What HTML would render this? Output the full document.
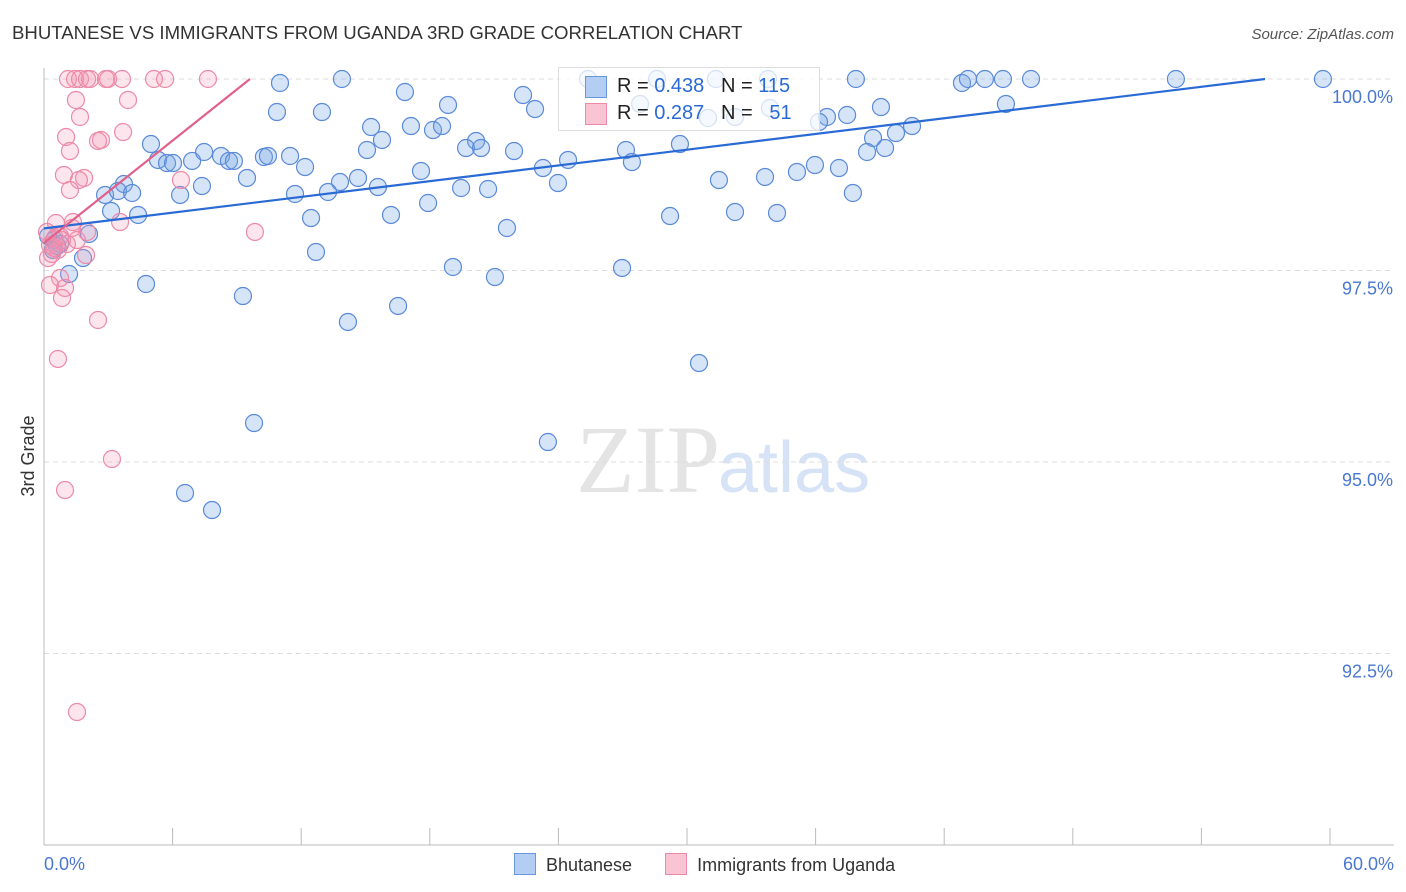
<!DOCTYPE html>
<html><head><meta charset="utf-8"><style>
body{margin:0;background:#fff;font-family:"Liberation Sans",sans-serif;}
svg{display:block}
</style></head><body>
<svg id="chart" width="1406" height="892">
<text x="12" y="39" font-size="18.6" fill="#333">BHUTANESE VS IMMIGRANTS FROM UGANDA 3RD GRADE CORRELATION CHART</text>
<text x="1394" y="39" font-size="15" fill="#555" font-style="italic" text-anchor="end">Source: ZipAtlas.com</text>
<text x="720" y="492" font-size="96" fill="#e4e4e4" text-anchor="end" font-family="Liberation Serif">ZIP</text>
<text x="718" y="492" font-size="72" fill="#d6e2f5">atlas</text>
<text x="34" y="456" font-size="18" fill="#333" text-anchor="middle" transform="rotate(-90 34 456)">3rd Grade</text>
<g id="grid"></g><g id="axes"></g><g id="pts"></g><g id="lines"></g><g id="legend"></g>
</svg>
<script>
const yTicks=[100,97.5,95,92.5];
const yTickLabels=["100.0%","97.5%","95.0%","92.5%"];
const xTickLabels=["0.0%","60.0%"];
const blueX=[],blueY=[],pinkX=[],pinkY=[];
const bluePx=[[280,83],[342,79],[588,79],[657,79],[716,79],[768,79],[856,79],[962,83],[968,79],[985,79],[1003,79],[1031,79],[1176,79],[1323,79],[405,92],[523,95],[277,112],[322,112],[448,105],[535,109],[640,104],[708,118],[735,117],[770,108],[827,117],[819,122],[847,115],[881,107],[1006,104],[371,127],[411,126],[433,130],[442,126],[382,140],[367,150],[151,144],[476,141],[466,148],[481,148],[514,151],[626,150],[680,144],[873,138],[896,133],[912,126],[867,152],[885,148],[158,160],[167,163],[173,163],[192,161],[204,152],[221,156],[229,161],[234,161],[264,157],[268,156],[290,156],[305,167],[568,160],[543,168],[632,162],[815,165],[839,168],[797,172],[124,184],[105,195],[118,191],[132,193],[180,195],[202,186],[247,178],[295,194],[340,182],[328,192],[358,178],[378,187],[421,171],[461,188],[488,189],[558,183],[719,180],[765,177],[853,193],[111,211],[138,215],[311,218],[391,215],[428,203],[507,228],[670,216],[735,212],[777,213],[89,234],[54,240],[60,244],[53,250],[83,258],[316,252],[69,274],[146,284],[243,296],[453,267],[495,277],[622,268],[348,322],[398,306],[699,363],[254,423],[548,442],[185,493],[212,510],[48,236],[57,246]];
const pinkPx=[[68,79],[75,79],[80,79],[87,79],[90,79],[106,79],[108,79],[122,79],[154,79],[165,79],[208,79],[76,100],[128,100],[80,117],[66,137],[123,132],[70,151],[101,140],[98,141],[64,175],[84,178],[79,180],[70,190],[181,180],[56,223],[73,222],[47,232],[55,238],[62,240],[50,245],[58,250],[48,258],[52,254],[67,244],[77,240],[87,232],[86,255],[120,222],[255,232],[60,278],[50,285],[65,288],[62,298],[98,320],[58,359],[112,459],[65,490],[77,712],[54,248],[60,236],[72,228]];
bluePx.forEach(p=>{blueX.push(+((p[0]-44)/1286*60).toFixed(2));blueY.push(+(100-(p[1]-79)/191.5*2.5).toFixed(3));});
pinkPx.forEach(p=>{pinkX.push(+((p[0]-44)/1286*60).toFixed(2));pinkY.push(+(100-(p[1]-79)/191.5*2.5).toFixed(3));});
const blueTrend=[98.05,100.0,56.97];
const pinkTrend=[97.86,100.0,9.61];
const xs=v=>44+v/60*1286, ys=v=>79+(100-v)/2.5*191.5;
const NS="http://www.w3.org/2000/svg";
function mk(t,a,parent){const e=document.createElementNS(NS,t);for(const k in a)e.setAttribute(k,a[k]);document.getElementById(parent).appendChild(e);return e;}
yTicks.forEach((t,i)=>{
 const g=mk('line',{x1:44,x2:1394,y1:ys(t),y2:ys(t),stroke:'#ddd','stroke-dasharray':'5,4'},'grid');
 
 
 const l=mk('text',{x:1393,y:ys(t)+24,'font-size':18,fill:'#4a78d0','text-anchor':'end'},'axes');l.textContent=yTickLabels[i];
 
 
});
let ax=mk('line',{x1:44,x2:44,y1:68,y2:845,stroke:'#bbb'},'axes');


ax=mk('line',{x1:44,x2:1394,y1:845,y2:845,stroke:'#bbb'},'axes');


for(let i=1;i<=10;i++){const t=mk('line',{x1:xs(i*6),x2:xs(i*6),y1:828,y2:845,stroke:'#bbb'},'axes');
 
 }
let xl=mk('text',{x:44,y:870,'font-size':18,fill:'#4a78d0'},'axes');xl.textContent=xTickLabels[0];


xl=mk('text',{x:1394,y:870,'font-size':18,fill:'#4a78d0','text-anchor':'end'},'axes');xl.textContent=xTickLabels[1];


blueX.forEach((x,i)=>{const c=mk('circle',{cx:xs(x),cy:ys(blueY[i]),r:8.5,fill:'rgba(120,165,230,0.3)',stroke:'#5a8ad8','stroke-width':1.2},'pts');
 
 });
pinkX.forEach((x,i)=>{const c=mk('circle',{cx:xs(x),cy:ys(pinkY[i]),r:8.5,fill:'rgba(245,150,180,0.25)',stroke:'#ec8aa8','stroke-width':1.2},'pts');
 
 });
let tl=mk('line',{x1:xs(0),y1:ys(blueTrend[0]),x2:xs(blueTrend[2]),y2:ys(blueTrend[1]),stroke:'#2a6ad4','stroke-width':2.2},'lines');


tl=mk('line',{x1:xs(0),y1:ys(pinkTrend[0]),x2:xs(pinkTrend[2]),y2:ys(pinkTrend[1]),stroke:'#e0608a','stroke-width':2.2},'lines');


</script>
<div style="position:absolute;left:558px;top:67px;width:260px;height:62px;border:1px solid #ddd;background:rgba(255,255,255,0.75);font-size:20px;color:#222;">
 <div style="position:absolute;left:26px;top:8px;width:20px;height:20px;background:#b4cdf2;border:1px solid #6a98dc"></div>
 <div style="position:absolute;left:58px;top:7px;white-space:pre">R = <span style="color:#2a6ad4">0.438</span>   N = <span style="color:#2a6ad4">115</span></div>
 <div style="position:absolute;left:26px;top:35px;width:20px;height:20px;background:#f9c4d4;border:1px solid #ec8aa8"></div>
 <div style="position:absolute;left:58px;top:34px;white-space:pre">R = <span style="color:#2a6ad4">0.287</span>   N =   <span style="color:#2a6ad4">51</span></div>
</div>
<div style="position:absolute;top:853px;left:514px;font-size:18px;color:#333;white-space:nowrap">
 <span><span style="display:inline-block;width:20px;height:20px;background:#b4cdf2;border:1px solid #6a98dc;vertical-align:-4px;margin-right:10px"></span>Bhutanese</span>
 <span style="margin-left:28px"><span style="display:inline-block;width:20px;height:20px;background:#f9c4d4;border:1px solid #ec8aa8;vertical-align:-4px;margin-right:10px"></span>Immigrants from Uganda</span>
</div>
</body></html>
